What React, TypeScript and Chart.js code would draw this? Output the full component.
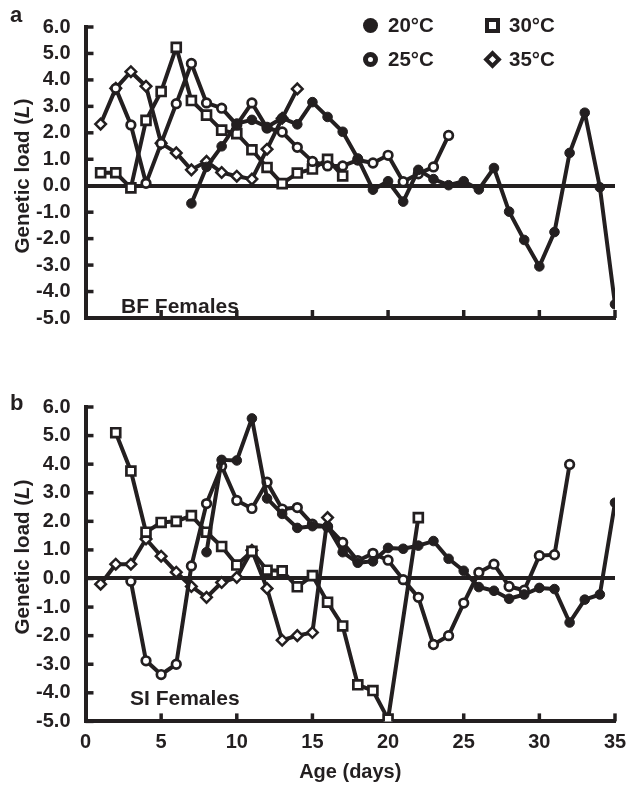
import React, { useEffect, useRef } from "react";
import { Chart, registerables } from "chart.js";

Chart.register(...registerables);

const INK = "#231f20";
const FONT = '"Liberation Sans", Arial, Helvetica, sans-serif';

const days = [1, 2, 3, 4, 5, 6, 7, 8, 9, 10, 11, 12, 13, 14, 15, 16, 17, 18, 19, 20, 21, 22, 23, 24, 25, 26, 27, 28, 29, 30, 31, 32, 33, 34, 35];
const xTicks = [0, 5, 10, 15, 20, 25, 30, 35];
const yTicks = [-5, -4, -3, -2, -1, 0, 1, 2, 3, 4, 5, 6];
const seriesLabels = ["20°C", "25°C", "30°C", "35°C"];

// Panel a: BF Females
const bf20 = [null, null, null, null, null, null, -0.67, 0.71, 1.49, 2.35, 2.49, 2.22, 2.56, 2.32, 3.16, 2.6, 2.04, 1.03, -0.15, 0.17, -0.6, 0.6, 0.25, 0.02, 0.17, -0.14, 0.67, -0.98, -2.05, -3.05, -1.75, 1.24, 2.76, -0.06, -4.48];
const bf25 = [null, 3.68, 2.3, 0.09, 1.6, 3.1, 4.62, 3.13, 2.93, 2.3, 3.13, 2.18, 2.03, 1.45, 0.92, 0.75, 0.75, 0.97, 0.86, 1.15, 0.15, 0.45, 0.71, 1.9, null, null, null, null, null, null, null, null, null, null, null];
const bf30 = [0.49, 0.49, -0.08, 2.47, 3.56, 5.23, 3.22, 2.67, 2.1, 1.97, 1.36, 0.69, 0.08, 0.48, 0.63, 1.0, 0.37, null, null, null, null, null, null, null, null, null, null, null, null, null, null, null, null, null, null];
const bf35 = [2.33, 3.68, 4.31, 3.76, 1.61, 1.24, 0.6, 0.92, 0.5, 0.36, 0.25, 1.38, 2.55, 3.66, null, null, null, null, null, null, null, null, null, null, null, null, null, null, null, null, null, null, null, null, null];

// Panel b: SI Females
const si20 = [null, null, null, null, null, null, null, 0.92, 4.15, 4.13, 5.6, 2.8, 2.26, 1.77, 1.83, 1.82, 0.92, 0.55, 0.6, 1.07, 1.04, 1.15, 1.31, 0.69, 0.27, -0.3, -0.43, -0.71, -0.56, -0.33, -0.37, -1.54, -0.74, -0.56, 2.65];
const si25 = [null, null, -0.1, -2.88, -3.36, -3.0, 0.44, 2.62, 3.93, 2.73, 2.45, 3.37, 2.43, 2.48, 1.9, 1.81, 1.26, 0.62, 0.88, 0.64, -0.04, -0.66, -2.31, -2.0, -0.86, 0.21, 0.5, -0.28, -0.41, 0.8, 0.83, 3.99, null, null, null];
const si30 = [null, 5.1, 3.76, 1.62, 1.96, 2.0, 2.2, 1.62, 1.12, 0.47, 0.95, 0.29, 0.27, -0.29, 0.1, -0.83, -1.66, -3.72, -3.92, -4.92, null, 2.13, null, null, null, null, null, null, null, null, null, null, null, null, null];
const si35 = [-0.2, 0.5, 0.5, 1.38, 0.78, 0.22, -0.28, -0.66, -0.14, 0.04, 0.99, -0.35, -2.16, -2.0, -1.89, 2.13, null, null, null, null, null, null, null, null, null, null, null, null, null, null, null, null, null, null, null];

const LEFT = 85.5;
const RIGHT_PAD = 28;

const innerTicks = {
  id: "innerTicks",
  beforeDatasetsDraw(chart: any) {
    const { ctx, chartArea, scales } = chart;
    ctx.save();
    ctx.strokeStyle = INK;
    ctx.lineWidth = 3.5;
    ctx.lineCap = "butt";
    yTicks.forEach((v) => {
      const py = scales.y.getPixelForValue(v);
      ctx.beginPath();
      ctx.moveTo(chartArea.left, py);
      ctx.lineTo(chartArea.left + 8, py);
      ctx.stroke();
    });
    xTicks.filter((v) => v > 0).forEach((v) => {
      const px = scales.x.getPixelForValue(v);
      ctx.beginPath();
      ctx.moveTo(px, chartArea.bottom);
      ctx.lineTo(px, chartArea.bottom - 8);
      ctx.stroke();
    });
    ctx.restore();
  },
};

function buildConfig(vals: (number | null)[][], showX: boolean, top: number, xh: number): any {
  const mk = (arr: (number | null)[]) => days.map((d, i) => ({ x: d, y: arr[i] }));
  const base = { borderColor: INK, borderWidth: 4, borderJoinStyle: "round", pointBorderColor: INK, tension: 0 };
  const font = { family: FONT, size: 20, weight: "bold" };
  return {
    type: "line",
    data: {
      datasets: [
        { ...base, label: seriesLabels[0], data: mk(vals[0]), pointStyle: "circle", pointRadius: 4.8, pointBorderWidth: 1, pointBackgroundColor: INK },
        { ...base, label: seriesLabels[1], data: mk(vals[1]), pointStyle: "circle", pointRadius: 4.3, pointBorderWidth: 2.7, pointBackgroundColor: "#ffffff" },
        { ...base, label: seriesLabels[2], data: mk(vals[2]), pointStyle: "rect", pointRadius: 6.3, pointBorderWidth: 2.7, pointBackgroundColor: "#ffffff" },
        { ...base, label: seriesLabels[3], data: mk(vals[3]), pointStyle: "rectRot", pointRadius: 5.3, pointBorderWidth: 2.5, pointBackgroundColor: "#ffffff" },
      ],
    },
    options: {
      animation: false,
      responsive: false,
      spanGaps: true,
      layout: { padding: { left: 0, right: RIGHT_PAD, top, bottom: 0 } },
      plugins: { legend: { display: false }, tooltip: { enabled: false } },
      scales: {
        x: {
          type: "linear",
          min: 0,
          max: 35,
          afterFit: (sc: any) => {
            sc.height = xh;
          },
          afterBuildTicks: (sc: any) => {
            sc.ticks = xTicks.map((v) => ({ value: v }));
          },
          ticks: { display: showX, font, color: INK, padding: 9, maxRotation: 0 },
          grid: { drawTicks: false, color: "rgba(0,0,0,0)" },
          border: { display: true, color: INK, width: 4 },
          title: { display: showX, text: "Age (days)", font: { family: FONT, size: 20, weight: "bold" }, color: INK, padding: { top: 0, bottom: 2 } },
        },
        y: {
          type: "linear",
          min: -5,
          max: 6,
          afterFit: (sc: any) => {
            sc.width = LEFT;
          },
          afterBuildTicks: (sc: any) => {
            sc.ticks = yTicks.map((v) => ({ value: v }));
          },
          ticks: { font, color: INK, padding: 15, callback: (v: any) => Number(v).toFixed(1) },
          grid: {
            drawTicks: false,
            color: (c: any) => (c.tick && c.tick.value === 0 ? INK : "rgba(0,0,0,0)"),
            lineWidth: (c: any) => (c.tick && c.tick.value === 0 ? 4 : 0),
          },
          border: { display: true, color: INK, width: 4 },
        },
      },
    },
    plugins: [innerTicks],
  };
}

const textBold: React.CSSProperties = {
  position: "absolute",
  fontFamily: FONT,
  fontWeight: "bold",
  color: INK,
  lineHeight: 1,
  whiteSpace: "nowrap",
};

function Label({ x, y, size, children }: { x: number; y: number; size: number; children: React.ReactNode }) {
  return <div style={{ ...textBold, left: x, top: y, fontSize: size, transform: "translateY(-50%)" }}>{children}</div>;
}

function YTitle({ cy }: { cy: number }) {
  return (
    <div style={{ ...textBold, left: 22, top: cy, fontSize: 20.5, transform: "translate(-50%, -50%) rotate(-90deg)" }}>
      Genetic load (<i>L</i>)
    </div>
  );
}

function Marker({ kind, cx, cy }: { kind: string; cx: number; cy: number }) {
  const common: React.CSSProperties = { position: "absolute", boxSizing: "border-box" };
  if (kind === "filled") return <div style={{ ...common, left: cx - 7.5, top: cy - 7.5, width: 15, height: 15, borderRadius: "50%", background: INK }} />;
  if (kind === "open") return <div style={{ ...common, left: cx - 7.5, top: cy - 7.5, width: 15, height: 15, borderRadius: "50%", background: "#fff", border: `5px solid ${INK}` }} />;
  if (kind === "square") return <div style={{ ...common, left: cx - 7.5, top: cy - 7.5, width: 15, height: 15, background: "#fff", border: `4.5px solid ${INK}` }} />;
  return <div style={{ ...common, left: cx - 6.5, top: cy - 6.5, width: 13, height: 13, background: "#fff", border: `4px solid ${INK}`, transform: "rotate(45deg)" }} />;
}

export default function App() {
  const refA = useRef<HTMLCanvasElement>(null);
  const refB = useRef<HTMLCanvasElement>(null);

  useEffect(() => {
    const a = new Chart(refA.current as HTMLCanvasElement, buildConfig([bf20, bf25, bf30, bf35], false, 15.3, 345 - 334.3));
    const b = new Chart(refB.current as HTMLCanvasElement, buildConfig([si20, si25, si30, si35], true, 21.6, 406 - 341.4));
    return () => {
      a.destroy();
      b.destroy();
    };
  }, []);

  return (
    <div style={{ position: "fixed", left: 0, top: 0, width: 643, height: 786, background: "#fff", overflow: "hidden" }}>
      <canvas ref={refA} width={643} height={345} style={{ position: "absolute", left: 0, top: 0, width: 643, height: 345 }} />
      <canvas ref={refB} width={643} height={406} style={{ position: "absolute", left: 0, top: 380, width: 643, height: 406 }} />

      <Label x={10} y={15} size={22}>a</Label>
      <Label x={10} y={403} size={22}>b</Label>

      <YTitle cy={176} />
      <YTitle cy={557} />

      <Marker kind="filled" cx={370} cy={25} />
      <Label x={388} y={25} size={20.5}>{seriesLabels[0]}</Label>
      <Marker kind="open" cx={370} cy={59} />
      <Label x={388} y={59} size={20.5}>{seriesLabels[1]}</Label>
      <Marker kind="square" cx={492} cy={25} />
      <Label x={509} y={25} size={20.5}>{seriesLabels[2]}</Label>
      <Marker kind="diamond" cx={492} cy={59} />
      <Label x={509} y={59} size={20.5}>{seriesLabels[3]}</Label>

      <Label x={121} y={305} size={21}>BF Females</Label>
      <Label x={130} y={697} size={21}>SI Females</Label>
    </div>
  );
}
